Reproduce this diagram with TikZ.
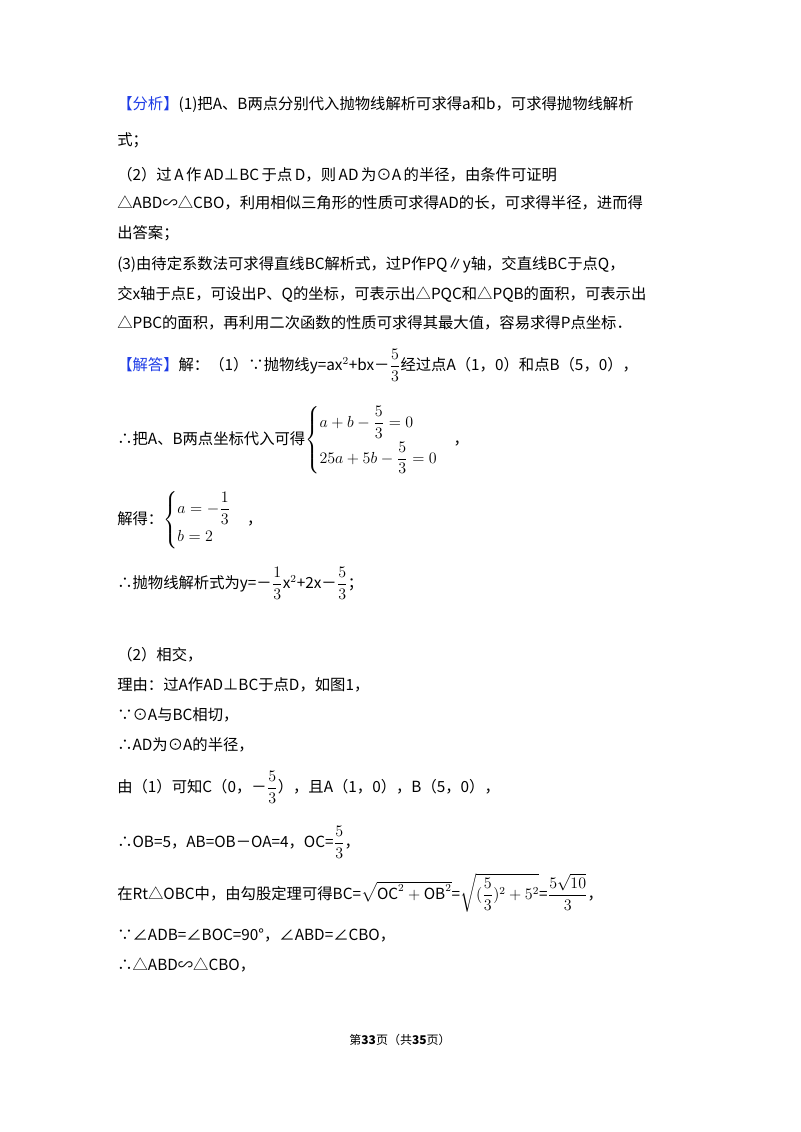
\documentclass[tikz,border=0pt]{standalone}
\usepackage{amsmath}
\usepackage{fontspec}
\setmainfont{Noto Sans CJK SC}
\definecolor{hd}{RGB}{30,60,230}
\newcommand{\fr}[2]{{\scriptstyle\dfrac{#1}{#2}}}
\begin{document}
\begin{tikzpicture}[x=0.75pt,y=-0.75pt,every node/.style={anchor=west,inner sep=0pt,font=\fontsize{11.5}{14}\selectfont}]
\useasboundingbox (0,0) rectangle (800,1132);
\node (l1) at (117,105) {\textcolor{hd}{【分析】}(1)把A、B两点分别代入抛物线解析可求得a和b，可求得抛物线解析};
\node (l2) at (117,140) {式；};
\node (l3) at (117,175) {（2）过\,A\,作\,AD⊥BC\,于点\,D，则\,AD\,为⊙A\,的半径，由条件可证明};
\node (l4) at (117,203) {△ABD∽△CBO，利用相似三角形的性质可求得AD的长，可求得半径，进而得};
\node (l5) at (117,233) {出答案；};
\node (l6) at (117,265) {(3)由待定系数法可求得直线BC解析式，过P作PQ∥y轴，交直线BC于点Q，};
\node (l7) at (117,294) {交x轴于点E，可设出P、Q的坐标，可表示出△PQC和△PQB的面积，可表示出};
\node (l8) at (117,323) {△PBC的面积，再利用二次函数的性质可求得其最大值，容易求得P点坐标．};
\node (l9) at (117,365) {\textcolor{hd}{【解答】}解：（1）∵抛物线y=ax$^2$+bx－$\fr{5}{3}$经过点A（1，0）和点B（5，0），};
\node (l10) at (117,440) {∴把A、B两点坐标代入可得$\begin{cases}a+b-\dfrac{5}{3}=0\\[6pt] 25a+5b-\dfrac{5}{3}=0\end{cases}$，};
\node (l11) at (117,520) {解得：$\begin{cases}a=-\dfrac{1}{3}\\[4pt] b=2\end{cases}$，};
\node (l12) at (117,583) {∴抛物线解析式为y=－$\fr{1}{3}$x$^2$+2x－$\fr{5}{3}$；};
\node (l13) at (117,655) {（2）相交，};
\node (l14) at (117,685) {理由：过A作AD⊥BC于点D，如图1，};
\node (l15) at (117,715) {∵⊙A与BC相切，};
\node (l16) at (117,745) {∴AD为⊙A的半径，};
\node (l17) at (117,787) {由（1）可知C（0，－$\fr{5}{3}$），且A（1，0），B（5，0），};
\node (l18) at (117,842) {∴OB=5，AB=OB－OA=4，OC=$\fr{5}{3}$，};
\node (l19) at (117,893) {在Rt△OBC中，由勾股定理可得BC=$\sqrt{\mathrm{OC}^2+\mathrm{OB}^2}$=$\sqrt{(\fr{5}{3})^2+5^2}$=$\fr{5\sqrt{10}}{3}$，};
\node (l20) at (117,935) {∵∠ADB=∠BOC=90°，∠ABD=∠CBO，};
\node (l21) at (117,965) {∴△ABD∽△CBO，};
\node[anchor=center,font=\fontsize{9}{11}\selectfont] (ft) at (400,1040) {第\textbf{33}页（共\textbf{35}页）};
\end{tikzpicture}
\end{document}
